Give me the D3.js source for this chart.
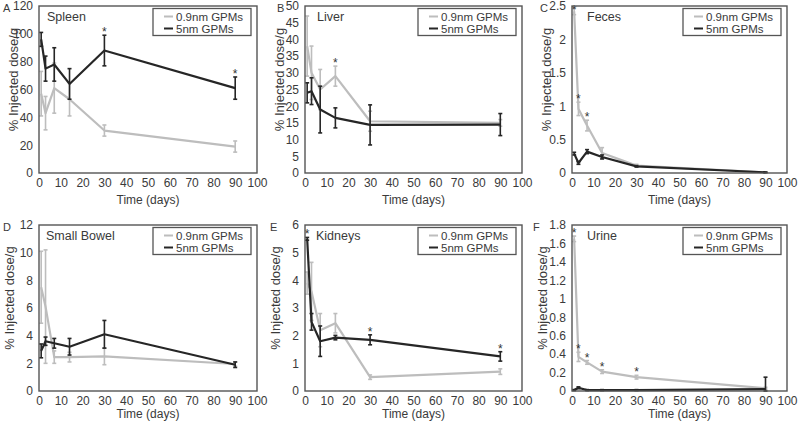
<!DOCTYPE html>
<html><head><meta charset="utf-8">
<script src="https://cdn.jsdelivr.net/npm/d3@7"></script>
<style>
html,body{margin:0;padding:0;background:#fff;}
svg{display:block;font-family:"Liberation Sans",Arial,sans-serif;}
</style></head>
<body><svg id="c" width="800" height="422"></svg>
<script>
// ---------- DATA ----------
const days = [1, 3, 7, 14, 30, 90];
const xTicks = [0, 10, 20, 30, 40, 50, 60, 70, 80, 90, 100];
const panelLetters = ["A", "B", "C", "D", "E", "F"];
const organs = ["Spleen", "Liver", "Feces", "Small Bowel", "Kidneys", "Urine"];
const seriesNames = ["0.9nm GPMs", "5nm GPMs"];

const spleenTicks = [0, 20, 40, 60, 80, 100, 120];
const liverTicks = [0, 5, 10, 15, 20, 25, 30, 35, 40, 45, 50];
const fecesTicks = [0, 0.5, 1, 1.5, 2, 2.5];
const bowelTicks = [0, 2, 4, 6, 8, 10, 12];
const kidneyTicks = [0, 1, 2, 3, 4, 5, 6];
const urineTicks = [0, 0.2, 0.4, 0.6, 0.8, 1, 1.2, 1.4, 1.6, 1.8];

// 0.9nm GPMs (light) and 5nm GPMs (dark): mean and error
const spleenSmall = [57, 43, 61, 53, 30.5, 19];
const spleenSmallErr = [16, 12, 18, 12, 4, 4];
const spleenLarge = [96, 75, 78, 64, 88, 61];
const spleenLargeErr = [5, 9, 12, 11, 11, 8];

const liverSmall = [38, 30, 25, 29, 15.5, 15];
const liverSmallErr = [9, 8, 6, 3, 3, 1];
const liverLarge = [24, 24.5, 19, 16.5, 14.4, 14.5];
const liverLargeErr = [3, 4, 7, 3, 6, 3.3];

const fecesSmall = [2.42, 0.96, 0.71, 0.3, 0.11, 0.01];
const fecesSmallErr = [0.05, 0.1, 0.08, 0.08, 0.02, 0.005];
const fecesLarge = [0.29, 0.15, 0.32, 0.24, 0.1, 0.01];
const fecesLargeErr = [0.02, 0.02, 0.03, 0.03, 0.01, 0.005];

const bowelSmall = [7.5, 6.1, 2.45, 2.45, 2.5, 1.95];
const bowelSmallErr = [2.6, 4.1, 0.45, 0.35, 0.6, 0.15];
const bowelLarge = [2.9, 3.6, 3.45, 3.2, 4.1, 1.9];
const bowelLargeErr = [0.5, 0.3, 0.35, 0.6, 1.0, 0.2];

const kidneySmall = [3.9, 3.6, 2.2, 2.45, 0.5, 0.7];
const kidneySmallErr = [0.4, 1.05, 0.6, 0.35, 0.08, 0.1];
const kidneyLarge = [5.5, 2.5, 1.8, 1.93, 1.85, 1.25];
const kidneyLargeErr = [0.05, 0.3, 0.55, 0.08, 0.18, 0.17];

const urineSmall = [1.65, 0.37, 0.31, 0.21, 0.15, 0.03];
const urineSmallErr = [0.03, 0.05, 0.02, 0.02, 0.02, 0.01];
const urineLarge = [0.01, 0.035, 0.01, 0.01, 0.01, 0.02];
const urineLargeErr = [0.005, 0.01, 0.005, 0.005, 0.005, 0.13];

// significance stars: [series (0 = 0.9nm, 1 = 5nm), day index]
const spleenStars = [[1, 4], [1, 5]];
const liverStars = [[0, 3]];
const fecesStars = [[0, 0], [0, 1], [0, 2]];
const bowelStars = [];
const kidneyStars = [[1, 0], [1, 4], [1, 5]];
const urineStars = [[0, 0], [0, 1], [0, 2], [0, 3], [0, 4]];

const panelData = [
  {ticks: spleenTicks, s: [spleenSmall, spleenLarge], e: [spleenSmallErr, spleenLargeErr], stars: spleenStars},
  {ticks: liverTicks, s: [liverSmall, liverLarge], e: [liverSmallErr, liverLargeErr], stars: liverStars},
  {ticks: fecesTicks, s: [fecesSmall, fecesLarge], e: [fecesSmallErr, fecesLargeErr], stars: fecesStars},
  {ticks: bowelTicks, s: [bowelSmall, bowelLarge], e: [bowelSmallErr, bowelLargeErr], stars: bowelStars},
  {ticks: kidneyTicks, s: [kidneySmall, kidneyLarge], e: [kidneySmallErr, kidneyLargeErr], stars: kidneyStars},
  {ticks: urineTicks, s: [urineSmall, urineLarge], e: [urineSmallErr, urineLargeErr], stars: urineStars}
];

// ---------- LAYOUT ----------
const cols = [{l: 39, r: 257}, {l: 305, r: 522}, {l: 572, r: 787}];
const rows = [{t: 6, b: 173, xt: 31}, {t: 225, b: 391, xt: 27}];
const letterX = [3, 277, 540, 3, 270, 533];
const titleDx = [8, 12, 15, 7, 11, 15];
const colors = ["#bdbdbd", "#262626"];
const axisColor = "#555";
const textColor = "#3a3a3a";

const svg = d3.select("#c");

panelData.forEach((pd, i) => {
  const c = cols[i % 3], r = rows[Math.floor(i / 3)];
  const x = d3.scaleLinear().domain([0, 100]).range([c.l, c.r]);
  const y = d3.scaleLinear().domain([0, d3.max(pd.ticks)]).range([r.b, r.t]);
  const g = svg.append("g");

  // x tick labels
  const xa = g.append("g").attr("transform", `translate(0,${r.b})`)
    .call(d3.axisBottom(x).tickValues(xTicks).tickSize(0).tickPadding(5).tickFormat(d3.format("d")));
  xa.select(".domain").remove();
  xa.selectAll("text").attr("font-size", 12).attr("fill", textColor).attr("font-family", "Liberation Sans, Arial, sans-serif");

  // y tick labels
  const ya = g.append("g").attr("transform", `translate(${c.l},0)`)
    .call(d3.axisLeft(y).tickValues(pd.ticks).tickSize(0).tickPadding(6).tickFormat(d => String(d)));
  ya.select(".domain").remove();
  ya.selectAll("text").attr("font-size", 12).attr("fill", textColor).attr("font-family", "Liberation Sans, Arial, sans-serif");

  // axis titles
  g.append("text").attr("x", (c.l + c.r) / 2).attr("y", r.b + r.xt)
    .attr("text-anchor", "middle").attr("font-size", 12).attr("fill", textColor).text("Time (days)");
  const ylx = c.l - (i < 3 ? 26 : 30), yly = (r.t + r.b) / 2 - 10;
  g.append("text").attr("transform", `translate(${ylx},${yly}) rotate(-90)`)
    .attr("text-anchor", "middle").attr("dy", "0.35em").attr("font-size", 13).attr("fill", textColor)
    .text("% Injected dose/g");

  // panel letter
  g.append("text").attr("x", letterX[i]).attr("y", r.t + 6).attr("font-size", 11).attr("fill", textColor)
    .text(panelLetters[i]);

  // series: error bars, lines
  const line = d3.line().x((d, k) => x(days[k])).y(d => y(d));
  [0, 1].forEach(si => {
    const vals = pd.s[si], errs = pd.e[si];
    const eb = g.append("g").attr("stroke", colors[si]).attr("stroke-width", 1.6);
    vals.forEach((v, k) => {
      const xx = x(days[k]);
      const y1 = y(Math.min(v + errs[k], y.domain()[1])), y0 = y(Math.max(v - errs[k], 0));
      eb.append("line").attr("x1", xx).attr("x2", xx).attr("y1", y1).attr("y2", y0);
      eb.append("line").attr("x1", xx - 2).attr("x2", xx + 2).attr("y1", y1).attr("y2", y1);
      eb.append("line").attr("x1", xx - 2).attr("x2", xx + 2).attr("y1", y0).attr("y2", y0);
    });
    g.append("path").datum(vals).attr("d", line).attr("fill", "none")
      .attr("stroke", colors[si]).attr("stroke-width", 2.2).attr("stroke-linejoin", "round");
  });

  // stars
  pd.stars.forEach(([si, k]) => {
    const top = y(pd.s[si][k] + pd.e[si][k]);
    g.append("text").attr("x", x(days[k])).attr("y", Math.max(top + 1, r.t + 8))
      .attr("text-anchor", "middle").attr("font-size", 12).attr("fill", "#333").text("*");
  });

  // frame
  g.append("rect").attr("x", c.l).attr("y", r.t).attr("width", c.r - c.l).attr("height", r.b - r.t)
    .attr("fill", "none").attr("stroke", axisColor).attr("stroke-width", 1.4);

  // organ title
  g.append("text").attr("x", c.l + titleDx[i]).attr("y", r.t + 15).attr("font-size", 12.5).attr("fill", textColor)
    .text(organs[i]);

  // legend
  const lw = 98, lx = c.r - 6 - lw, ly = r.t + 2.5;
  const lg = g.append("g");
  lg.append("rect").attr("x", lx).attr("y", ly).attr("width", lw).attr("height", 27)
    .attr("fill", "#fff").attr("stroke", axisColor).attr("stroke-width", 1.3);
  seriesNames.forEach((nm, si) => {
    const yy = ly + 8 + si * 12;
    lg.append("line").attr("x1", lx + 11).attr("x2", lx + 20).attr("y1", yy).attr("y2", yy)
      .attr("stroke", colors[si]).attr("stroke-width", 2);
    lg.append("text").attr("x", lx + 23).attr("y", yy + 4.2).attr("font-size", 11.5).attr("fill", textColor).text(nm);
  });
});
</script></body></html>
